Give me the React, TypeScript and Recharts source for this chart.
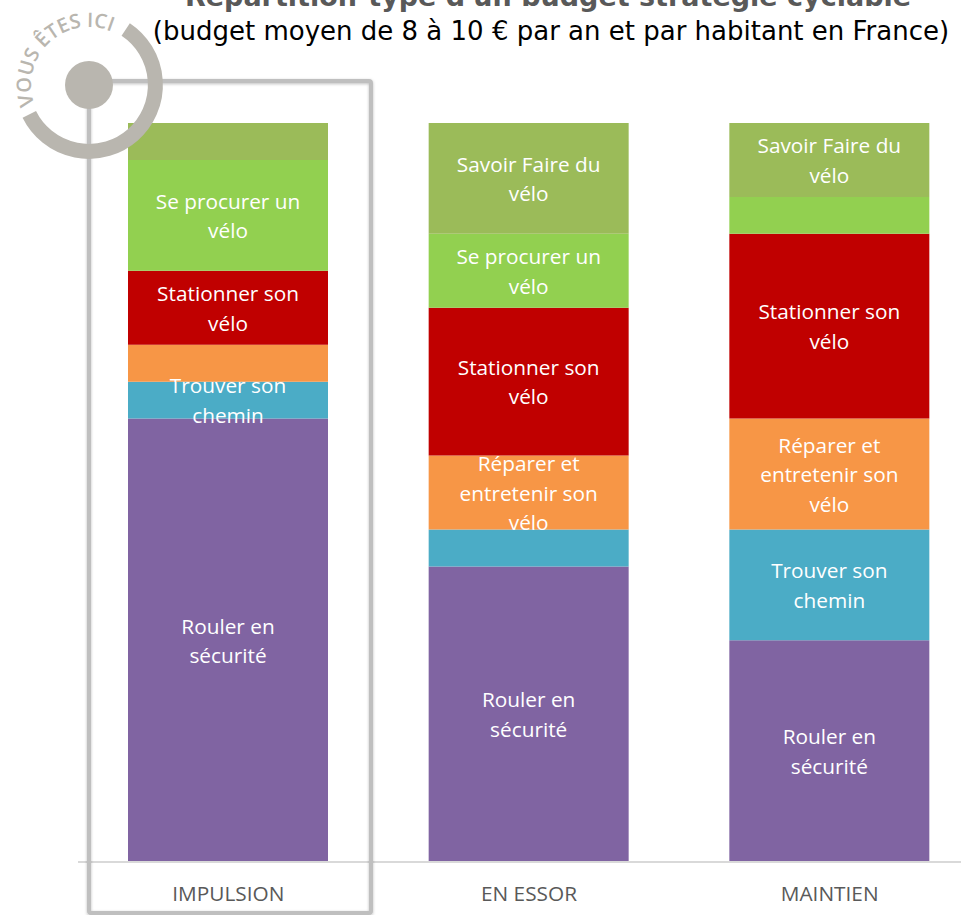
import { BarChart, Bar, XAxis, YAxis, LabelList } from 'recharts';

const categories = ['IMPULSION', 'EN ESSOR', 'MAINTIEN'];

// part of the budget, in percent
const rouler = [60, 40, 30];
const trouver = [5, 5, 15];
const reparer = [5, 10, 15];
const stationner = [10, 20, 25];
const procurer = [15, 10, 5];
const savoir = [5, 15, 10];

const rulerText = 'Rouler en\nsécurité';
const trouverText = 'Trouver son\nchemin';
const reparerText = 'Réparer et\nentretenir son\nvélo';
const stationnerText = 'Stationner son\nvélo';
const procurerText = 'Se procurer un\nvélo';
const savoirText = 'Savoir Faire du\nvélo';

const rows = categories.map((name, i) => ({
  name,
  rouler: rouler[i],
  trouver: trouver[i],
  reparer: reparer[i],
  stationner: stationner[i],
  procurer: procurer[i],
  savoir: savoir[i],
  rouler_txt: rulerText,
  trouver_txt: i === 1 ? '' : trouverText,
  reparer_txt: i === 0 ? '' : reparerText,
  stationner_txt: stationnerText,
  procurer_txt: i === 2 ? '' : procurerText,
  savoir_txt: i === 0 ? '' : savoirText,
}));

const series = [
  { key: 'rouler', color: '#8064a2' },
  { key: 'trouver', color: '#4bacc6' },
  { key: 'reparer', color: '#f79646' },
  { key: 'stationner', color: '#c00000' },
  { key: 'procurer', color: '#92d050' },
  { key: 'savoir', color: '#9bbb59' },
];

const font = '"Open Sans", sans-serif';

function SegmentLabel(props: any) {
  const { x, y, width, height, value } = props;
  if (!value) return null;
  const lines = String(value).split('\n');
  const cx = Number(x) + Number(width) / 2;
  const cy = Number(y) + Number(height) / 2;
  const first = cy - ((lines.length - 1) * 29.5) / 2;
  return (
    <text x={cx} textAnchor="middle" fill="#fff" fontFamily={font} fontSize={20.8}>
      {lines.map((l, i) => (
        <tspan key={i} x={cx} y={first + i * 29.5} dominantBaseline="central">
          {l}
        </tspan>
      ))}
    </text>
  );
}

export default function App() {
  return (
    <div style={{ position: 'absolute', left: 0, top: 0, width: 961, height: 915, overflow: 'hidden', background: '#fff' }}>
      <BarChart
        width={981}
        height={915}
        data={rows}
        barSize={200}
        margin={{ top: 123, right: 1, left: 78, bottom: 0 }}
      >
        <YAxis hide domain={[0, 100]} />
        <XAxis
          dataKey="name"
          height={53}
          tickLine={false}
          axisLine={{ stroke: '#d9d9d9', strokeWidth: 2 }}
          tick={{ fill: '#595959', fontSize: 20.8, fontFamily: font }}
          tickMargin={18}
        />
        {series.map((s) => (
          <Bar key={s.key} dataKey={s.key} stackId="a" fill={s.color} isAnimationActive={false}>
            <LabelList dataKey={s.key + '_txt'} content={SegmentLabel} />
          </Bar>
        ))}
      </BarChart>

      <svg width={961} height={915} style={{ position: 'absolute', left: 0, top: 0 }}>
        <defs>
          <filter id="soft" x="-5%" y="-5%" width="110%" height="110%">
            <feDropShadow dx="0" dy="1" stdDeviation="1.5" floodColor="#000" floodOpacity="0.25" />
          </filter>
          <path id="ring" d="M 34.5 104.8 A 58 58 0 0 1 126.3 40.6" fill="none" />
        </defs>
        <text x={548} y={6} textAnchor="middle" fontFamily='"DejaVu Sans", sans-serif' fontWeight="bold" fontSize={27} fill="#595959">
          Répartition-type d'un budget stratégie cyclable
        </text>
        <text x={551} y={40} textAnchor="middle" fontFamily='"DejaVu Sans", sans-serif' fontSize={26} fill="#000">
          (budget moyen de 8 à 10 € par an et par habitant en France)
        </text>
        <rect x={89} y={81} width={282} height={832} rx={2} fill="none" stroke="#bfbfbf" strokeWidth={4} filter="url(#soft)" />
        <path d="M 125.7 29.5 A 66.5 66.5 0 1 1 29.3 114.4" fill="none" stroke="#b9b6af" strokeWidth={15} />
        <circle cx={89} cy={85} r={24} fill="#b9b6af" />
        <text fontFamily={font} fontSize={20} fontWeight={600} fill="#b9b6af">
          <textPath href="#ring">VOUS ÊTES ICI</textPath>
        </text>
      </svg>
    </div>
  );
}
